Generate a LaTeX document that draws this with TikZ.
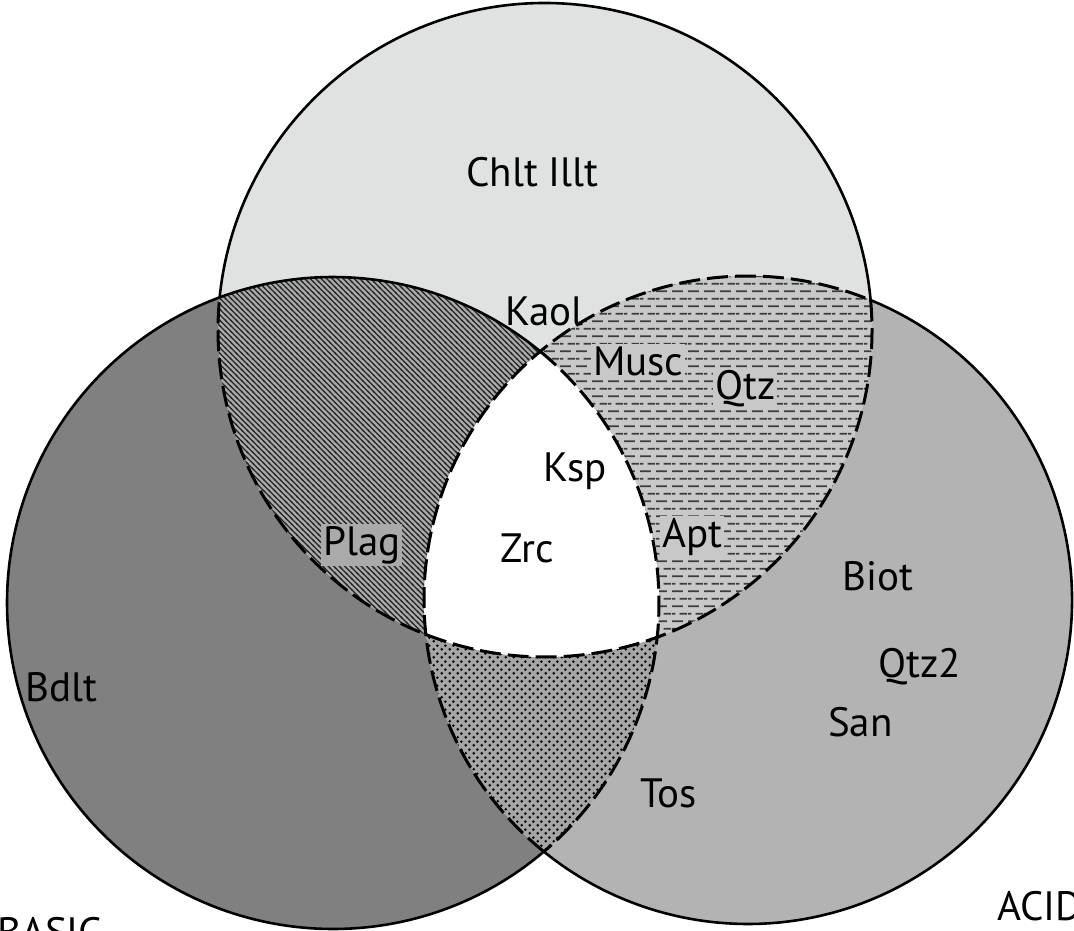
\documentclass[tikz,border=0pt]{standalone}
\usepackage{fontspec}
\setmainfont{PT Sans}
\usetikzlibrary{patterns}
\pgfdeclarepatternformonly{hatchnw}{\pgfqpoint{-1pt}{-1pt}}{\pgfqpoint{6.5pt}{6.5pt}}{\pgfqpoint{5.5pt}{5.5pt}}{%
  \pgfsetlinewidth{1.3pt}%
  \pgfpathmoveto{\pgfqpoint{-1pt}{6.5pt}}\pgfpathlineto{\pgfqpoint{6.5pt}{-1pt}}%
  \pgfusepath{stroke}}
\pgfdeclarepatternformonly{hdash}{\pgfqpoint{0pt}{0pt}}{\pgfqpoint{16pt}{15.4pt}}{\pgfqpoint{16pt}{15.4pt}}{%
  \pgfsetlinewidth{1.8pt}%
  \pgfpathmoveto{\pgfqpoint{0pt}{3.85pt}}\pgfpathlineto{\pgfqpoint{11.5pt}{3.85pt}}%
  \pgfpathmoveto{\pgfqpoint{8pt}{11.55pt}}\pgfpathlineto{\pgfqpoint{16pt}{11.55pt}}%
  \pgfpathmoveto{\pgfqpoint{0pt}{11.55pt}}\pgfpathlineto{\pgfqpoint{3.5pt}{11.55pt}}%
  \pgfusepath{stroke}}
\pgfdeclarepatternformonly{sdots}{\pgfqpoint{0pt}{0pt}}{\pgfqpoint{8pt}{8pt}}{\pgfqpoint{8pt}{8pt}}{%
  \pgfpathcircle{\pgfqpoint{2pt}{2pt}}{1.5pt}%
  \pgfpathcircle{\pgfqpoint{6pt}{6pt}}{1.5pt}%
  \pgfusepath{fill}}
\definecolor{topc}{RGB}{224,226,226}
\definecolor{leftc}{RGB}{128,128,128}
\definecolor{rightc}{RGB}{179,179,179}
\definecolor{tlc}{RGB}{170,170,170}
\definecolor{trc}{RGB}{200,200,200}
\definecolor{lrc}{RGB}{165,165,165}
\definecolor{dashc}{RGB}{60,60,60}
\begin{document}
\begin{tikzpicture}[x=1pt,y=-1pt,
  lbl/.style={font=\fontsize{41}{48}\selectfont, inner sep=2pt, anchor=base west},
  solidb/.style={line width=2.6pt},
  dashb/.style={line width=3pt, dash pattern=on 21pt off 7pt}]
\useasboundingbox (0,0) rectangle (1074,931);
\coordinate (cT) at (545,330);
\coordinate (cL) at (333,603);
\coordinate (cR) at (748,600);
% base discs
\fill[topc] (cT) circle[radius=327];
\fill[leftc] (cL) circle[radius=326];
\fill[rightc] (cR) circle[radius=324];
% top & left
\begin{scope}
  \clip (cT) circle[radius=327];
  \fill[tlc] (cL) circle[radius=326];
  \fill[pattern=hatchnw, pattern color=black!85] (cL) circle[radius=326];
\end{scope}
% top & right
\begin{scope}
  \clip (cT) circle[radius=327];
  \fill[trc] (cR) circle[radius=324];
  \fill[pattern=hdash, pattern color=dashc] (cR) circle[radius=324];
\end{scope}
% left & right
\begin{scope}
  \clip (cL) circle[radius=326];
  \fill[lrc] (cR) circle[radius=324];
  \fill[pattern=sdots, pattern color=black] (cR) circle[radius=324];
\end{scope}
% centre
\begin{scope}
  \clip (cT) circle[radius=327];
  \clip (cL) circle[radius=326];
  \fill[white] (cR) circle[radius=324];
\end{scope}
% solid outlines
\draw[solidb] (cT) ++(-174.28:327) arc[start angle=-174.28, end angle=-5.25, radius=327];
\draw[solidb] (cL) ++(-110.36:326) arc[start angle=-110.36, end angle=-50.52, radius=326];
\draw[solidb] (cL) ++(49.70:326) arc[start angle=49.70, end angle=249.64, radius=326];
\draw[solidb] (cR) ++(-67.77:324) arc[start angle=-67.77, end angle=129.05, radius=324];
% dashed inner boundaries
\draw[dashb] (cT) ++(-5.25:327) arc[start angle=-5.25, end angle=185.72, radius=327];
\draw[dashb] (cL) ++(-50.52:326) arc[start angle=-50.52, end angle=49.70, radius=326];
\draw[dashb] (cR) ++(129.05:324) arc[start angle=129.05, end angle=292.23, radius=324];
% labels
\node[lbl] (chlt) at (464,186) {Chlt Illt};
\node[lbl] (kaol) at (503,325) {Kaol};
\node[lbl, fill=trc] (musc) at (591,375) {Musc};
\node[lbl, fill=trc] (qtz) at (713,399) {Qtz};
\node[lbl] (ksp) at (541,481) {Ksp};
\node[lbl] (zrc) at (498,562) {Zrc};
\node[lbl, fill=tlc] (plag) at (321,555) {Plag};
\node[lbl, fill=trc] (apt) at (660,547) {Apt};
\node[lbl] (biot) at (840,590) {Biot};
\node[lbl] (qtztwo) at (876,677) {Qtz2};
\node[lbl] (san) at (826,736) {San};
\node[lbl] (tos) at (638,807) {Tos};
\node[lbl] (bdlt) at (23,701) {Bdlt};
\node[lbl] (basic) at (-5,946) {BASIC};
\node[lbl] (acid) at (995,920) {ACID};
\end{tikzpicture}
\end{document}
